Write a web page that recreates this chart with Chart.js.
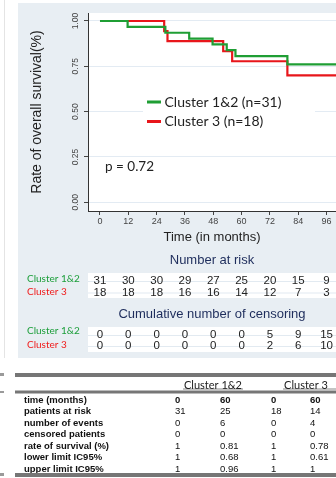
<!DOCTYPE html>
<html>
<head>
<meta charset="utf-8">
<script src="https://cdn.jsdelivr.net/npm/chart.js@4.4.1/dist/chart.umd.min.js"></script>
<style>
  html, body { margin: 0; padding: 0; background: #ffffff; overflow: hidden; }
  #wrap { position: relative; width: 336px; height: 478px; }
  canvas { display: block; }
</style>
</head>
<body>
<div id="wrap"><canvas id="km" width="336" height="478"></canvas></div>
<script>
// Kaplan–Meier steps: month of each drop and survival after it
const months12 = [0, 11.7, 27.7, 37.8, 47.7, 53.7, 57.4, 79.4, 100];
const surv12   = [1, 0.968, 0.935, 0.903, 0.871, 0.839, 0.806, 0.761, 0.761];
const months3  = [0, 27.2, 28.6, 52.2, 56.0, 79.4, 100];
const surv3    = [1, 0.944, 0.889, 0.833, 0.778, 0.700, 0.700];

const seriesLabels = ['Cluster 1&2 (n=31)', 'Cluster 3 (n=18)'];
const groupNames   = ['Cluster 1&2', 'Cluster 3'];
const pValueText   = 'p = 0.72';

// axis ticks
const timeTicks      = [0, 12, 24, 36, 48, 60, 72, 84, 96];
const survTicks      = [0, 0.25, 0.5, 0.75, 1];
const survTickLabels = ['0.00', '0.25', '0.50', '0.75', '1.00'];

// risk tables under the plot, one value per time tick
const atRisk12   = [31, 30, 30, 29, 27, 25, 20, 15, 9];
const atRisk3    = [18, 18, 18, 16, 16, 14, 12, 7, 3];
const censored12 = [0, 0, 0, 0, 0, 0, 5, 9, 15];
const censored3  = [0, 0, 0, 0, 0, 0, 2, 6, 10];

// summary table
const summaryRows = ['time (months)', 'patients at risk', 'number of events', 'censored patients',
                     'rate of survival (%)', 'lower limit IC95%', 'upper limit IC95%'];
const c12Month0  = ['0', '31', '0', '0', '1', '1', '1'];
const c12Month60 = ['60', '25', '6', '0', '0.81', '0.68', '0.96'];
const c3Month0   = ['0', '18', '0', '0', '1', '1', '1'];
const c3Month60  = ['60', '14', '4', '0', '0.78', '0.61', '1'];

const GREEN = '#1f9e34';
const RED   = '#e8161b';
const LABEL_GREEN = '#1c9e3a';
const LABEL_RED   = '#f01c1c';
const NAVY  = '#1e2d5c';
const PANEL = '#e8eef3';
const SANS   = '"Liberation Sans", Arial, sans-serif';
const NARROW = '"Liberation Sans Narrow", "Liberation Sans", Arial, sans-serif';
const HUMAN  = 'Lato, "Open Sans", sans-serif';

const toPoints = (xs, ys) => xs.map((m, i) => ({ x: m, y: ys[i] }));

function text(ctx, str, x, y, font, color, align) {
  ctx.font = font;
  ctx.fillStyle = color;
  ctx.textAlign = align || 'left';
  ctx.textBaseline = 'middle';
  ctx.fillText(str, x, y);
}

const decor = {
  id: 'decor',
  beforeDraw(chart) {
    const { ctx, chartArea: ca, width, height } = chart;
    ctx.save();
    ctx.fillStyle = '#ffffff';
    ctx.fillRect(0, 0, width, height);
    // neighbouring figure edge
    ctx.fillStyle = '#e4e4e4';
    ctx.fillRect(4, 0, 1, 358);
    // graph region
    ctx.fillStyle = PANEL;
    ctx.fillRect(18, 3, width - 18, 355);
    ctx.fillStyle = '#ffffff';
    ctx.fillRect(ca.left, ca.top, ca.right - ca.left, ca.bottom - ca.top);
    // white bands for the two tables
    ctx.fillRect(ca.left, 273, ca.right - ca.left, 25);
    ctx.fillRect(ca.left, 327, ca.right - ca.left, 25);
    // faint guide lines through table rows
    ctx.fillStyle = '#e2eaf1';
    [281, 292.5, 335, 346].forEach(y => ctx.fillRect(ca.left, y, ca.right - ca.left, 1));
    ctx.restore();
  },
  afterDraw(chart) {
    const { ctx, chartArea: ca } = chart;
    const xs = chart.scales.x;
    const ds = chart.data.datasets;
    ctx.save();

    // legend inside the plot
    ctx.fillStyle = '#ffffff';
    ctx.fillRect(143, 90, 172, 42);
    const legendRows = [102, 121.5];
    ds.forEach((d, i) => {
      ctx.fillStyle = d.borderColor;
      ctx.fillRect(147, legendRows[i] - 1.5, 14, 3);
      text(ctx, d.label, 164.5, legendRows[i], `14px ${HUMAN}`, '#222', 'left');
    });

    // p-value
    text(ctx, pValueText, 105, 166.5, `13.5px ${HUMAN}`, '#222', 'left');

    // number at risk
    text(ctx, 'Number at risk', (ca.left + ca.right) / 2, 260, `13px ${SANS}`, NAVY, 'center');
    text(ctx, groupNames[0], 27, 278.5, `10px ${HUMAN}`, LABEL_GREEN, 'left');
    text(ctx, groupNames[1], 27, 291.5, `10px ${HUMAN}`, LABEL_RED, 'left');
    timeTicks.forEach((t, i) => {
      const px = xs.getPixelForValue(t);
      text(ctx, String(atRisk12[i]), px, 281, `11.5px ${NARROW}`, '#222', 'center');
      text(ctx, String(atRisk3[i]), px, 292.5, `11.5px ${NARROW}`, '#222', 'center');
    });

    // cumulative censoring
    text(ctx, 'Cumulative number of censoring', (ca.left + ca.right) / 2, 314, `13px ${SANS}`, NAVY, 'center');
    text(ctx, groupNames[0], 27, 331, `10px ${HUMAN}`, LABEL_GREEN, 'left');
    text(ctx, groupNames[1], 27, 345, `10px ${HUMAN}`, LABEL_RED, 'left');
    timeTicks.forEach((t, i) => {
      const px = xs.getPixelForValue(t);
      text(ctx, String(censored12[i]), px, 335, `11.5px ${NARROW}`, '#222', 'center');
      text(ctx, String(censored3[i]), px, 346, `11.5px ${NARROW}`, '#222', 'center');
    });

    // summary table rules
    ctx.fillStyle = '#9a9a9a';
    ctx.fillRect(0, 373, 4, 3);
    ctx.fillRect(0, 391, 4, 2);
    ctx.fillRect(0, 473, 4, 3);
    ctx.fillStyle = '#767676';
    ctx.fillRect(15, 373, 321, 4);
    ctx.fillRect(15, 390.5, 321, 3);
    ctx.fillStyle = '#8a8a8a';
    ctx.fillRect(183, 388.5, 60, 1);
    ctx.fillRect(283, 388.5, 53, 1);

    text(ctx, groupNames[0], 213, 385.5, `11px ${HUMAN}`, '#222', 'center');
    text(ctx, groupNames[1], 306, 385.5, `11px ${HUMAN}`, '#222', 'center');

    summaryRows.forEach((lab, r) => {
      const y = 400 + r * 11.55;
      const w = r === 0 ? 'bold ' : '';
      text(ctx, lab, 24, y, `bold 9.5px ${SANS}`, '#111', 'left');
      text(ctx, c12Month0[r], 175, y, `${w}9.5px ${SANS}`, '#111', 'left');
      text(ctx, c12Month60[r], 220, y, `${w}9.5px ${SANS}`, '#111', 'left');
      text(ctx, c3Month0[r], 271, y, `${w}9.5px ${SANS}`, '#111', 'left');
      text(ctx, c3Month60[r], 310, y, `${w}9.5px ${SANS}`, '#111', 'left');
    });

    ctx.fillStyle = '#767676';
    ctx.fillRect(15, 473, 321, 4);
    ctx.restore();
  }
};

new Chart(document.getElementById('km'), {
  type: 'line',
  data: {
    datasets: [
      { label: seriesLabels[0], data: toPoints(months12, surv12), borderColor: GREEN,
        borderWidth: 2.2, stepped: true, pointRadius: 0, fill: false },
      { label: seriesLabels[1], data: toPoints(months3, surv3), borderColor: RED,
        borderWidth: 2.2, stepped: true, pointRadius: 0, fill: false }
    ]
  },
  options: {
    responsive: false,
    animation: false,
    events: [],
    layout: { padding: { left: 18, top: 13, right: 0, bottom: 478 - 211 - 40 } },
    plugins: { legend: { display: false }, tooltip: { enabled: false } },
    scales: {
      x: {
        type: 'linear', min: -5.08, max: 100,
        afterBuildTicks: s => { s.ticks = timeTicks.map(v => ({ value: v })); },
        afterFit: s => { s.height = 40; },
        grid: { drawOnChartArea: false, drawTicks: true, tickLength: 4, tickColor: '#444' },
        border: { display: true, color: '#333', width: 1 },
        ticks: { font: { family: NARROW, size: 9 }, color: '#444', padding: 1,
                 maxRotation: 0, autoSkip: false },
        title: { display: true, text: 'Time (in months)', color: '#222',
                 font: { family: SANS, size: 13 }, padding: { top: 0, bottom: 6 } }
      },
      y: {
        type: 'linear', min: -0.048, max: 1.044,
        afterBuildTicks: s => { s.ticks = survTicks.map(v => ({ value: v })); },
        afterFit: s => { s.width = 70; },
        grid: { color: '#e3ebf3', tickColor: '#444', tickLength: 4, drawTicks: true },
        border: { display: true, color: '#333', width: 1 },
        ticks: {
          font: { family: NARROW, size: 8.5 }, color: '#444', padding: 0,
          minRotation: 90, maxRotation: 90, crossAlign: 'center',
          callback: v => { const i = survTicks.indexOf(v); return i >= 0 ? survTickLabels[i] : ''; }
        },
        title: { display: true, text: 'Rate of overall survival(%)', color: '#222',
                 font: { family: SANS, size: 14 }, padding: { top: 11, bottom: 0 } }
      }
    }
  },
  plugins: [decor]
});
</script>
</body>
</html>
